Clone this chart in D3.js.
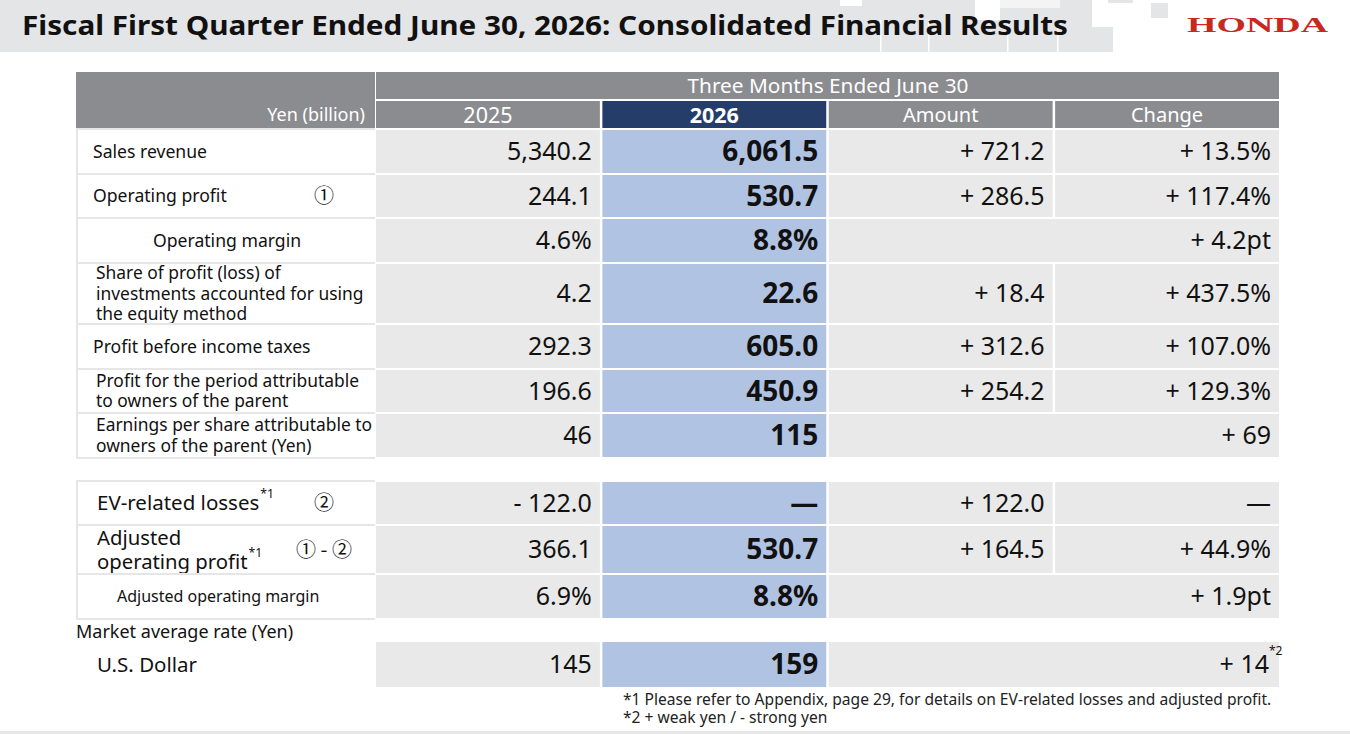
<!DOCTYPE html>
<html>
<head>
<meta charset="utf-8">
<script src="https://cdn.jsdelivr.net/npm/d3@7"></script>
<style>
  html, body { margin: 0; padding: 0; background: #ffffff; }
  svg { display: block; font-family: "Noto Sans", "Open Sans", sans-serif; }
</style>
</head>
<body>
<svg id="chart" width="1350" height="734"></svg>
<script>
// ---------------- DATA ----------------
const titleText = "Fiscal First Quarter Ended June 30, 2026: Consolidated Financial Results";
const brandText = "HONDA";
const unitLabel = "Yen (billion)";
const periodLabel = "Three Months Ended June 30";
const columns = ["2025", "2026", "Amount", "Change"];
const highlightColumn = "2026";

const rowLabels = [
  ["Sales revenue"],
  ["Operating profit"],
  ["Operating margin"],
  ["Share of profit (loss) of", "investments accounted for using", "the equity method"],
  ["Profit before income taxes"],
  ["Profit for the period attributable", "to owners of the parent"],
  ["Earnings per share attributable to", "owners of the parent (Yen)"],
  ["EV-related losses"],
  ["Adjusted", "operating profit"],
  ["Adjusted operating margin"],
  ["U.S. Dollar"]
];
const labelNotes = ["", "", "", "", "", "", "", "*1", "*1", "", ""];
const rowMarkers = ["", "①", "", "", "", "", "", "②", "① - ②", "", ""];

const values2025 = ["5,340.2", "244.1", "4.6%", "4.2", "292.3", "196.6", "46", "- 122.0", "366.1", "6.9%", "145"];
const values2026 = ["6,061.5", "530.7", "8.8%", "22.6", "605.0", "450.9", "115", "—", "530.7", "8.8%", "159"];
const amountValues = ["+ 721.2", "+ 286.5", "", "+ 18.4", "+ 312.6", "+ 254.2", "", "+ 122.0", "+ 164.5", "", ""];
const changeValues = ["+ 13.5%", "+ 117.4%", "+ 4.2pt", "+ 437.5%", "+ 107.0%", "+ 129.3%", "+ 69", "—", "+ 44.9%", "+ 1.9pt", "+ 14"];
const valueNotes = ["", "", "", "", "", "", "", "", "", "", "*2"];

const sectionLabel = "Market average rate (Yen)";
const footnotes = [
  "*1 Please refer to Appendix, page 29, for details on EV-related losses and adjusted profit.",
  "*2 + weak yen / - strong yen"
];

// ---------------- LAYOUT (positions / sizes / styles) ----------------
const rowTop    = [130, 175, 219, 264, 325, 370, 414, 482, 526, 575, 642];
const rowBottom = [173, 217, 262, 323, 368, 412, 457, 524, 573, 618, 687];
const labelBoxed = [true, true, true, true, true, true, true, true, true, true, false];
const labelX    = [93, 93, 153, 96, 93, 96, 96, 97, 97, 117, 97];
const labelSize = [17.6, 17.6, 17.6, 17.4, 17.6, 17.4, 17.4, 20.5, 20.3, 16, 20.5];
const lineStep  = [0, 0, 0, 20.5, 0, 20.5, 20.5, 0, 24, 0, 0];

const colors = {
  band: "#e4e5e7",
  header: "#8b8c8f",
  headerHi: "#243e69",
  cell: "#e9e9e9",
  cellHi: "#b1c3e3",
  labelBorder: "#e6e6e6",
  text: "#111111",
  brand: "#c8281e"
};

const tableLeft = 76, labelRight = 375, tableRight = 1279;
const valueSize = 25;
const valueSizeBold = 28;
const pad = 8;

// ---------------- DRAW ----------------
const svg = d3.select("#chart");

// Title band with decorative blocks
const band = svg.append("g");
band.append("rect").attr("x", 0).attr("y", 0).attr("width", 1092).attr("height", 52).attr("fill", colors.band);
band.append("rect").attr("x", 1040).attr("y", 27).attr("width", 73).attr("height", 25).attr("fill", colors.band);
band.append("rect").attr("x", 1108).attr("y", 0).attr("width", 25).attr("height", 3).attr("fill", colors.band);
band.append("rect").attr("x", 1151).attr("y", 3).attr("width", 17).attr("height", 15).attr("fill", colors.band);
band.append("rect").attr("x", 840).attr("y", 0).attr("width", 22).attr("height", 6).attr("fill", "#fff");
[880, 928, 1007, 1057].forEach(x => {
  band.append("rect").attr("x", x).attr("y", 20).attr("width", 1.5).attr("height", 32).attr("fill", "#fff");
});
band.append("rect").attr("x", 975).attr("y", 0).attr("width", 25).attr("height", 20).attr("fill", "#fff");
band.append("rect").attr("x", 1000).attr("y", 0).attr("width", 60).attr("height", 8).attr("fill", "#f4f4f5");

svg.append("text")
  .attr("x", 22).attr("y", 35)
  .attr("font-size", 27).attr("font-weight", 700)
  .attr("fill", colors.text)
  .attr("textLength", 1046).attr("lengthAdjust", "spacingAndGlyphs")
  .text(titleText);

svg.append("text")
  .attr("x", 1187).attr("y", 32)
  .attr("font-family", "'Liberation Serif', 'DejaVu Serif', serif")
  .attr("font-size", 21).attr("font-weight", 700)
  .attr("fill", colors.brand)
  .attr("textLength", 141).attr("lengthAdjust", "spacingAndGlyphs")
  .text(brandText);

// Column scale
const x = d3.scaleBand().domain(columns).range([labelRight + 1, tableRight]).paddingInner(0.011).paddingOuter(0);

// Header
const head = svg.append("g");
head.append("rect").attr("x", tableLeft).attr("y", 72).attr("width", labelRight - tableLeft).attr("height", 56).attr("fill", colors.header);
head.append("rect").attr("x", x(columns[0])).attr("y", 72).attr("width", tableRight - x(columns[0])).attr("height", 27).attr("fill", colors.header);
head.append("text")
  .attr("x", (x(columns[0]) + tableRight) / 2 + 0.5).attr("y", 86).attr("dy", "0.35em")
  .attr("text-anchor", "middle").attr("font-size", 20.8).attr("fill", "#fff")
  .text(periodLabel);
head.append("text")
  .attr("x", 365).attr("y", 115).attr("dy", "0.35em")
  .attr("text-anchor", "end").attr("font-size", 18).attr("fill", "#fff")
  .text(unitLabel);
head.selectAll("rect.colh").data(columns).join("rect")
  .attr("class", "colh")
  .attr("x", d => x(d)).attr("y", 101).attr("width", x.bandwidth()).attr("height", 27)
  .attr("fill", d => d === highlightColumn ? colors.headerHi : colors.header);
head.selectAll("text.colh").data(columns).join("text")
  .attr("class", "colh")
  .attr("x", d => x(d) + x.bandwidth() / 2).attr("y", 115).attr("dy", "0.35em")
  .attr("text-anchor", "middle").attr("font-size", d => /^\d+$/.test(d) ? 21.5 : 20)
  .attr("font-weight", d => d === highlightColumn ? 700 : 400)
  .attr("fill", "#fff")
  .text(d => d);

// Rows
const rows = rowLabels.map((lines, i) => ({
  i, lines,
  note: labelNotes[i],
  marker: rowMarkers[i],
  v2025: values2025[i],
  v2026: values2026[i],
  amount: amountValues[i],
  change: changeValues[i],
  vnote: valueNotes[i],
  top: rowTop[i],
  h: rowBottom[i] - rowTop[i],
  mid: (rowTop[i] + rowBottom[i]) / 2
}));

const body = svg.append("g");
const rowG = body.selectAll("g.row").data(rows).join("g").attr("class", "row");

// label cells
rowG.filter(d => labelBoxed[d.i]).append("rect")
  .attr("x", tableLeft).attr("y", d => d.top - 2).attr("width", labelRight - tableLeft).attr("height", d => d.h + 4)
  .attr("fill", colors.labelBorder);
rowG.filter(d => labelBoxed[d.i]).append("rect")
  .attr("x", tableLeft + 2).attr("y", d => d.top).attr("width", labelRight - tableLeft - 2).attr("height", d => d.h)
  .attr("fill", "#fff");

// value cells
rowG.append("rect")
  .attr("x", x("2025")).attr("y", d => d.top).attr("width", x.bandwidth()).attr("height", d => d.h)
  .attr("fill", colors.cell);
rowG.append("rect")
  .attr("x", x("2026")).attr("y", d => d.top).attr("width", x.bandwidth()).attr("height", d => d.h)
  .attr("fill", colors.cellHi);
rowG.append("rect")
  .attr("x", x("Amount")).attr("y", d => d.top)
  .attr("width", d => d.amount === "" ? (x("Change") + x.bandwidth() - x("Amount")) : x.bandwidth())
  .attr("height", d => d.h)
  .attr("fill", colors.cell);
rowG.filter(d => d.amount !== "").append("rect")
  .attr("x", x("Change")).attr("y", d => d.top).attr("width", x.bandwidth()).attr("height", d => d.h)
  .attr("fill", colors.cell);

// label text
rowG.each(function(d) {
  const g = d3.select(this);
  const n = d.lines.length;
  const step = lineStep[d.i];
  const t = g.append("text")
    .attr("font-size", labelSize[d.i]).attr("fill", colors.text);
  d.lines.forEach((line, k) => {
    const ty = d.mid + (k - (n - 1) / 2) * step;
    t.append("tspan").attr("x", labelX[d.i]).attr("y", ty).attr("dy", "0.35em").text(line);
    if (k === n - 1 && d.note) {
      t.append("tspan").attr("font-size", labelSize[d.i] * 0.6).attr("dy", "-0.95em").attr("dx", 1).text(d.note);
    }
  });
  if (d.marker) {
    g.append("text")
      .attr("x", 324).attr("y", d.mid).attr("dy", "0.35em")
      .attr("text-anchor", "middle")
      .attr("font-family", "'Noto Sans CJK JP', 'DejaVu Sans', sans-serif")
      .attr("font-size", 20).attr("fill", colors.text)
      .text(d.marker);
  }
});

// value text
const valueCols = [
  { key: "v2025", col: "2025", bold: false },
  { key: "v2026", col: "2026", bold: true },
  { key: "amount", col: "Amount", bold: false },
  { key: "change", col: "Change", bold: false }
];
valueCols.forEach(vc => {
  rowG.filter(d => d[vc.key] !== "").append("text")
    .attr("x", d => x(vc.col) + x.bandwidth() - pad - (vc.key === "change" && d.vnote ? 2 : 0))
    .attr("y", d => d.mid).attr("dy", "0.35em")
    .attr("text-anchor", "end")
    .attr("font-size", vc.bold ? valueSizeBold : valueSize)
    .attr("font-weight", vc.bold ? 700 : 400)
    .attr("fill", colors.text)
    .text(d => d[vc.key]);
});
// value superscript note
rowG.filter(d => d.vnote).append("text")
  .attr("x", x("Change") + x.bandwidth() - 10).attr("y", d => d.mid - 10)
  .attr("font-size", 12).attr("fill", colors.text)
  .text(d => d.vnote);

// section label
svg.append("text")
  .attr("x", 76).attr("y", 632).attr("dy", "0.35em")
  .attr("font-size", 18).attr("fill", colors.text)
  .text(sectionLabel);

// footnotes
svg.selectAll("text.fn").data(footnotes).join("text")
  .attr("class", "fn")
  .attr("x", 623).attr("y", (d, i) => 700 + i * 18).attr("dy", "0.35em")
  .attr("font-size", 15.6).attr("fill", "#222")
  .text(d => d);

// bottom rule
svg.append("rect").attr("x", 0).attr("y", 731).attr("width", 1350).attr("height", 3).attr("fill", "#e6e6e6");
</script>
</body>
</html>
